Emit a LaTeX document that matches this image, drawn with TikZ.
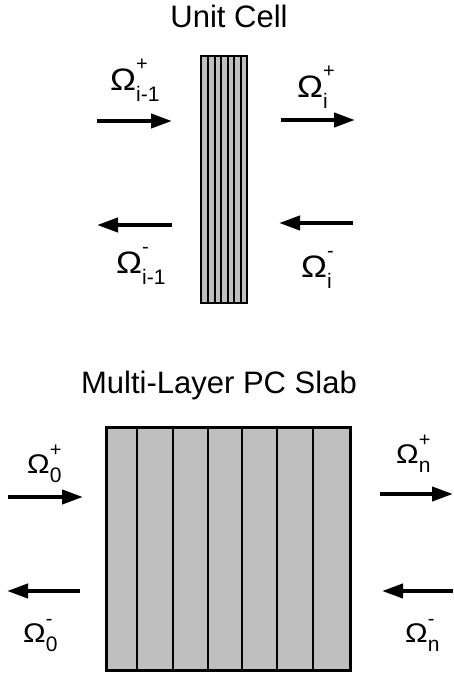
\documentclass[tikz,border=0pt]{standalone}
\usepackage{fontspec}
\setmainfont{Liberation Sans}
\usetikzlibrary{arrows.meta}

\definecolor{layergray}{gray}{0.75}

% flux label: Omega with upper and lower index
\newcommand{\omlab}[3][31]{\fontsize{#1}{#1}\selectfont\scalebox{1.12}[1]{Ω}\rlap{\raisebox{0.62\dimexpr#1pt\relax}{\fontsize{20}{20}\selectfont #2}}\raisebox{-0.36\dimexpr#1pt\relax}{\fontsize{21}{21}\selectfont #3}}

\tikzset{
  title/.style={anchor=base, inner sep=0pt, font=\fontsize{31}{31}\selectfont},
  lab/.style={anchor=base west, inner sep=0pt},
  flux/.style={line width=4pt, -{Triangle[length=21pt,width=14pt]}},
  layerbox/.style={fill=layergray, draw=black}
}

\begin{document}
\begin{tikzpicture}[x=1pt,y=-1pt]
\useasboundingbox (0,0) rectangle (453,677);

% Unit cell
\node[title] (celltitle) at (229,28) {Unit Cell};

\draw[layerbox, line width=2.2pt] (201,56) rectangle (247,303);
\foreach \x in {208,215,221,228,234,241}
  \draw[line width=2.2pt] (\x,56) -- (\x,303);

\coordinate (ci1) at (97,121);  \coordinate (ci2) at (172,121);
\coordinate (co1) at (281,120); \coordinate (co2) at (355,120);
\coordinate (cb1) at (172,225); \coordinate (cb2) at (97,225);
\coordinate (cr1) at (353,223); \coordinate (cr2) at (279,223);

\draw[flux] (ci1) -- (ci2);
\draw[flux] (co1) -- (co2);
\draw[flux] (cb1) -- (cb2);
\draw[flux] (cr1) -- (cr2);

\node[lab] (omiap) at (110,90) {\omlab{+}{i-1}};
\node[lab] (omip) at (297,97) {\omlab{+}{i}};
\node[lab] (omiam) at (116,273) {\omlab{-}{i-1}};
\node[lab] (omim) at (301,277) {\omlab{-}{i}};

% Multi-layer slab
\node[title] (slabtitle) at (219,393) {Multi-Layer PC Slab};

\draw[layerbox, line width=3pt] (106,427) rectangle (350,670);
\foreach \x in {137,173,208,242,277,313}
  \draw[line width=2.5pt] (\x,427) -- (\x,670);

\coordinate (si1) at (8,497);   \coordinate (si2) at (83,497);
\coordinate (so1) at (380,494); \coordinate (so2) at (453,494);
\coordinate (sb1) at (80,591);  \coordinate (sb2) at (7,591);
\coordinate (sr1) at (453,591); \coordinate (sr2) at (382,591);

\draw[flux] (si1) -- (si2);
\draw[flux] (so1) -- (so2);
\draw[flux] (sb1) -- (sb2);
\draw[flux] (sr1) -- (sr2);

\node[lab] (om0p) at (27,473) {\omlab[27]{+}{0}};
\node[lab] (omnp) at (396,463) {\omlab[27]{+}{n}};
\node[lab] (om0m) at (23,642) {\omlab[27]{-}{0}};
\node[lab] (omnm) at (405,642) {\omlab[27]{-}{n}};

\end{tikzpicture}
\end{document}
